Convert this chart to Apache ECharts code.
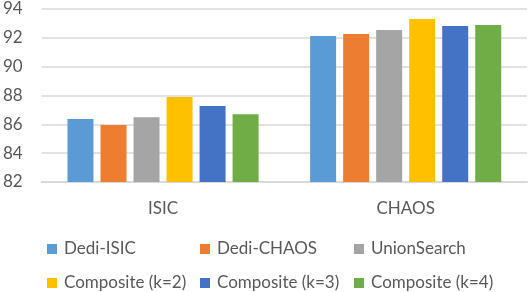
<!DOCTYPE html>
<html><head><meta charset="utf-8">
<script src="https://cdn.jsdelivr.net/npm/echarts@6/dist/echarts.min.js"></script>
<style>html,body{margin:0;padding:0;background:#fff}#c{width:528px;height:292px}</style>
</head><body><div id="c"></div>
<script>
const categories = ['ISIC', 'CHAOS'];
const seriesNames = ['Dedi-ISIC', 'Dedi-CHAOS', 'UnionSearch', 'Composite (k=2)', 'Composite (k=3)', 'Composite (k=4)'];
const dediISIC = [86.37, 92.12];
const dediCHAOS = [85.95, 92.26];
const unionSearch = [86.5, 92.54];
const compositeK2 = [87.9, 93.3];
const compositeK3 = [87.27, 92.82];
const compositeK4 = [86.7, 92.89];
const yTicks = [82, 84, 86, 88, 90, 92, 94];
const colors = ['#5B9BD5', '#ED7D31', '#A5A5A5', '#FFC000', '#4472C4', '#70AD47'];
const values = [dediISIC, dediCHAOS, unionSearch, compositeK2, compositeK3, compositeK4];
const font = 'Lato';
const chart = echarts.init(document.getElementById('c'), null, {renderer: 'canvas'});
const legendLefts = [42, 195, 349];
const legendTops = [235.5, 269.5];
const legends = seriesNames.map((n, i) => ({
  orient: 'horizontal',
  left: legendLefts[i % 3], top: legendTops[Math.floor(i / 3)],
  itemWidth: 10, itemHeight: 10, itemGap: 0, icon: 'rect',
  textStyle: {fontFamily: font, fontSize: 17, color: '#595959', padding: [0, 0, 0, 2]},
  data: [n]
}));
chart.setOption({
  animation: false,
  color: colors,
  textStyle: {fontFamily: font},
  grid: {left: 38, right: 1, top: 9, bottom: 110},
  legend: legends,
  xAxis: {
    type: 'category', data: categories,
    axisLine: {lineStyle: {color: '#d9d9d9', width: 2}},
    axisTick: {show: false},
    axisLabel: {fontFamily: font, fontSize: 17, color: '#595959', margin: 18}
  },
  yAxis: {
    type: 'value', min: yTicks[0], max: yTicks[yTicks.length - 1], interval: 2,
    axisLine: {show: false}, axisTick: {show: false},
    splitLine: {lineStyle: {color: '#d9d9d9', width: 1.5}},
    axisLabel: {fontFamily: font, fontSize: 17, color: '#595959', margin: 19}
  },
  series: seriesNames.map((n, i) => ({
    name: n, type: 'bar', data: values[i], barWidth: 26, barGap: '27%',
    itemStyle: {color: colors[i]}
  }))
});
</script></body></html>
